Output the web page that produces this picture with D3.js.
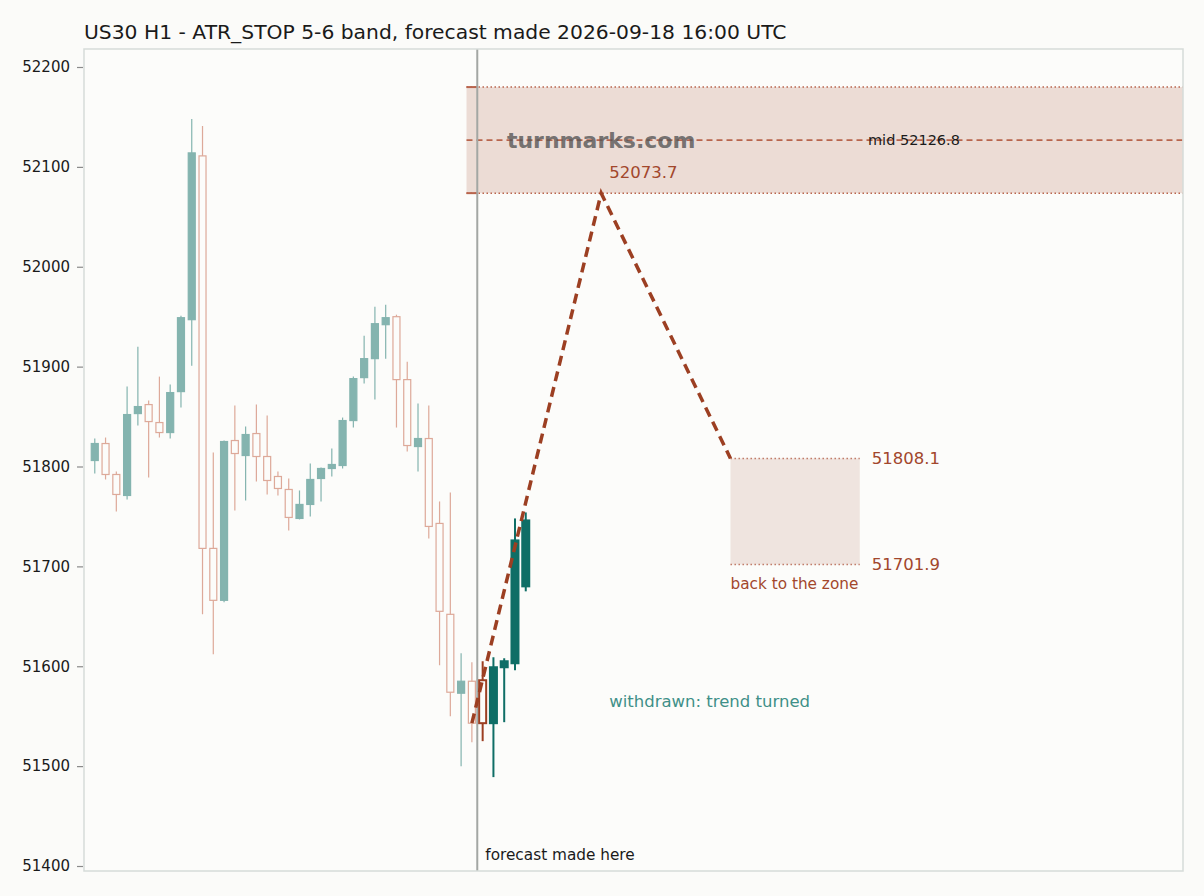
<!DOCTYPE html>
<html>
<head>
<meta charset="utf-8">
<script src="https://cdn.jsdelivr.net/npm/d3@7"></script>
<style>
    body { margin: 0; background: #fbfbf9; }
    svg { display: block; font-family: "DejaVu Sans", sans-serif; }
</style>
</head>
<body>
<div id="chart"></div>
<script>
// history candles before the forecast (faded)
const histOpen  = [51806, 51823, 51792, 51771, 51853, 51862, 51844, 51834, 51875, 51947, 52111, 51718, 51666, 51826, 51811, 51833, 51810, 51790,
                   51777, 51748, 51762, 51788, 51798, 51801, 51846, 51889, 51908, 51942, 51950, 51887, 51820, 51828, 51743, 51652, 51573, 51585];
const histHigh  = [51828, 51829, 51795, 51880, 51920, 51866, 51890, 51882, 51951, 52148, 52141, 51814, 51826, 51861, 51840, 51862, 51851, 51795,
                   51788, 51776, 51803, 51799, 51818, 51849, 51890, 51931, 51960, 51962, 51952, 51905, 51863, 51861, 51765, 51774, 51613, 51604];
const histLow   = [51793, 51787, 51755, 51767, 51841, 51789, 51829, 51828, 51859, 51901, 51652, 51612, 51664, 51756, 51766, 51785, 51772, 51771,
                   51736, 51747, 51750, 51765, 51790, 51798, 51839, 51883, 51867, 51908, 51839, 51815, 51795, 51728, 51601, 51550, 51500, 51524];
const histClose = [51823, 51792, 51772, 51852, 51860, 51845, 51834, 51874, 51949, 52114, 51718, 51666, 51825, 51813, 51832, 51810, 51786, 51778,
                   51749, 51762, 51787, 51798, 51802, 51846, 51888, 51908, 51943, 51949, 51887, 51821, 51828, 51740, 51655, 51574, 51585, 51543];

// candles after the forecast was made (bold)
const afterOpen  = [51586, 51543, 51599, 51603, 51680];
const afterHigh  = [51605, 51609, 51608, 51748, 51754];
const afterLow   = [51525, 51489, 51544, 51596, 51675];
const afterClose = [51543, 51599, 51605, 51726, 51746];

// forecast path: bar index and price
const pathBars   = [35, 47, 59];
const pathPrices = [51543, 52073.7, 51808.1];

const bandLow = 52073.7, bandMid = 52126.8, bandHigh = 52179.9;
const zoneLow = 51701.9, zoneHigh = 51808.1;
const zoneBars = [59, 71];
const bandStartBar = 34.5;
const forecastBar = 35.5;

const yTicks = [51400, 51500, 51600, 51700, 51800, 51900, 52000, 52100, 52200];
const titleText = "US30 H1 - ATR_STOP 5-6 band, forecast made 2026-09-18 16:00 UTC";

const W = 1204, H = 896;
const plot = {left: 84, right: 1183, top: 49, bottom: 871};

const teal = "#0f6e66", rust = "#9c3f22", labelRust = "#a2472c";

const svg = d3.select("#chart").append("svg")
    .attr("width", W)
    .attr("height", H);

svg.append("rect").attr("width", W).attr("height", H).attr("fill", "#fbfbf9");

const x = d3.scaleLinear().domain([-1, 101]).range([plot.left, plot.right]);
const y = d3.scaleLinear().domain([51400, 52200]).range([866, 67]);

svg.append("text")
    .attr("x", plot.left)
    .attr("y", 39)
    .attr("font-size", 20.3)
    .attr("fill", "#1a1a1a")
    .text(titleText);

svg.append("rect")
    .attr("x", plot.left).attr("y", plot.top)
    .attr("width", plot.right - plot.left).attr("height", plot.bottom - plot.top)
    .attr("fill", "#fcfcfa");

const g = svg.append("g");

// upper ATR band
g.append("rect")
    .attr("x", x(bandStartBar)).attr("y", y(bandHigh))
    .attr("width", plot.right - x(bandStartBar)).attr("height", y(bandLow) - y(bandHigh))
    .attr("fill", "#ecdcd5");

[bandHigh, bandLow].forEach(v => {
    g.append("line")
        .attr("x1", x(bandStartBar)).attr("x2", plot.right)
        .attr("y1", y(v)).attr("y2", y(v))
        .attr("stroke", "#b8644c").attr("stroke-width", 1.5)
        .attr("stroke-dasharray", "1.5,2.5");
    g.append("line")
        .attr("x1", x(bandStartBar)).attr("x2", x(forecastBar))
        .attr("y1", y(v)).attr("y2", y(v))
        .attr("stroke", "#b8644c").attr("stroke-width", 2);
});

g.append("line")
    .attr("x1", x(bandStartBar)).attr("x2", plot.right)
    .attr("y1", y(bandMid)).attr("y2", y(bandMid))
    .attr("stroke", "#b8644c").attr("stroke-width", 1.6)
    .attr("stroke-dasharray", "6,4");

// target zone
g.append("rect")
    .attr("x", x(zoneBars[0])).attr("y", y(zoneHigh))
    .attr("width", x(zoneBars[1]) - x(zoneBars[0])).attr("height", y(zoneLow) - y(zoneHigh))
    .attr("fill", "#efe4df");

[zoneHigh, zoneLow].forEach(v => {
    g.append("line")
        .attr("x1", x(zoneBars[0])).attr("x2", x(zoneBars[1]))
        .attr("y1", y(v)).attr("y2", y(v))
        .attr("stroke", "#c07a66").attr("stroke-width", 1.5)
        .attr("stroke-dasharray", "1.5,2.5");
});

// y axis
const yAxis = d3.axisLeft(y).tickValues(yTicks).tickSize(6).tickPadding(7).tickFormat(d3.format("d"));
const ax = svg.append("g")
    .attr("transform", "translate(" + (plot.left - 1) + ",0)")
    .call(yAxis);
ax.select(".domain").remove();
ax.selectAll(".tick line").attr("stroke", "#8a8a8a").attr("stroke-width", 1.2);
ax.selectAll(".tick text").attr("font-size", 15).attr("fill", "#1a1a1a").attr("font-family", "DejaVu Sans");

function drawCandles(parent, open, high, low, close, startIdx, bold) {
    const data = open.map((o, i) => ({i: startIdx + i, o, h: high[i], l: low[i], c: close[i]}));
    const grp = parent.append("g").attr("opacity", bold ? 1 : 0.5);
    const bw = 7;

    grp.selectAll("line.wick")
        .data(data)
        .enter().append("line")
        .attr("class", "wick")
        .attr("x1", d => x(d.i)).attr("x2", d => x(d.i))
        .attr("y1", d => y(d.h)).attr("y2", d => y(d.l))
        .attr("stroke", d => d.c >= d.o ? teal : (bold ? rust : "#c0583a"))
        .attr("stroke-width", bold ? 2 : 1.2);

    grp.selectAll("rect.body")
        .data(data)
        .enter().append("rect")
        .attr("class", "body")
        .attr("x", d => x(d.i) - bw / 2)
        .attr("width", bw)
        .attr("y", d => y(Math.max(d.o, d.c)))
        .attr("height", d => Math.max(1, Math.abs(y(d.o) - y(d.c))))
        .attr("fill", d => d.c >= d.o ? teal : "#fcfcfa")
        .attr("stroke", d => d.c >= d.o ? teal : (bold ? rust : "#c0583a"))
        .attr("stroke-width", bold ? 2 : 1.2);
}

drawCandles(g, histOpen, histHigh, histLow, histClose, 0, false);

// forecast made here
g.append("line")
    .attr("x1", x(forecastBar)).attr("x2", x(forecastBar))
    .attr("y1", plot.top).attr("y2", plot.bottom)
    .attr("stroke", "#a3a7a3").attr("stroke-width", 2);

drawCandles(g, afterOpen, afterHigh, afterLow, afterClose, 36, true);

// forecast path
const line = d3.line().x(d => x(d[0])).y(d => y(d[1]));
g.append("path")
    .datum(pathBars.map((b, i) => [b, pathPrices[i]]))
    .attr("d", line)
    .attr("fill", "none")
    .attr("stroke", rust)
    .attr("stroke-width", 3.5)
    .attr("stroke-dasharray", "10,6");

// texts
g.append("text")
    .attr("x", x(47)).attr("y", y(bandMid))
    .attr("dy", "0.35em")
    .attr("text-anchor", "middle")
    .attr("font-size", 22).attr("font-weight", "bold")
    .attr("fill", "#555").attr("fill-opacity", 0.8)
    .text("turnmarks.com");

g.append("text")
    .attr("x", 868).attr("y", y(bandMid)).attr("dy", "0.35em")
    .attr("font-size", 14.5).attr("fill", "#1a1a1a")
    .text("mid " + bandMid.toFixed(1));

g.append("text")
    .attr("x", x(47) + 8).attr("y", y(pathPrices[1]) - 21).attr("dy", "0.35em")
    .attr("font-size", 16.5).attr("fill", labelRust)
    .text(pathPrices[1].toFixed(1));

g.append("text")
    .attr("x", x(zoneBars[1]) + 12).attr("y", y(zoneHigh)).attr("dy", "0.35em")
    .attr("font-size", 16.5).attr("fill", labelRust)
    .text(zoneHigh.toFixed(1));

g.append("text")
    .attr("x", x(zoneBars[1]) + 12).attr("y", y(zoneLow)).attr("dy", "0.35em")
    .attr("font-size", 16.5).attr("fill", labelRust)
    .text(zoneLow.toFixed(1));

g.append("text")
    .attr("x", x(zoneBars[0])).attr("y", y(zoneLow) + 19).attr("dy", "0.35em")
    .attr("font-size", 15.3).attr("fill", labelRust)
    .text("back to the zone");

g.append("text")
    .attr("x", x(47) + 8).attr("y", 701).attr("dy", "0.35em")
    .attr("font-size", 16.5).attr("fill", "#3f9088")
    .text("withdrawn: trend turned");

g.append("text")
    .attr("x", x(forecastBar) + 8).attr("y", 855).attr("dy", "0.35em")
    .attr("font-size", 15.3).attr("fill", "#1a1a1a")
    .text("forecast made here");

// plot frame on top
svg.append("rect")
    .attr("x", plot.left).attr("y", plot.top)
    .attr("width", plot.right - plot.left).attr("height", plot.bottom - plot.top)
    .attr("fill", "none")
    .attr("stroke", "#d6dcd9").attr("stroke-width", 1.5);
</script>
</body>
</html>
